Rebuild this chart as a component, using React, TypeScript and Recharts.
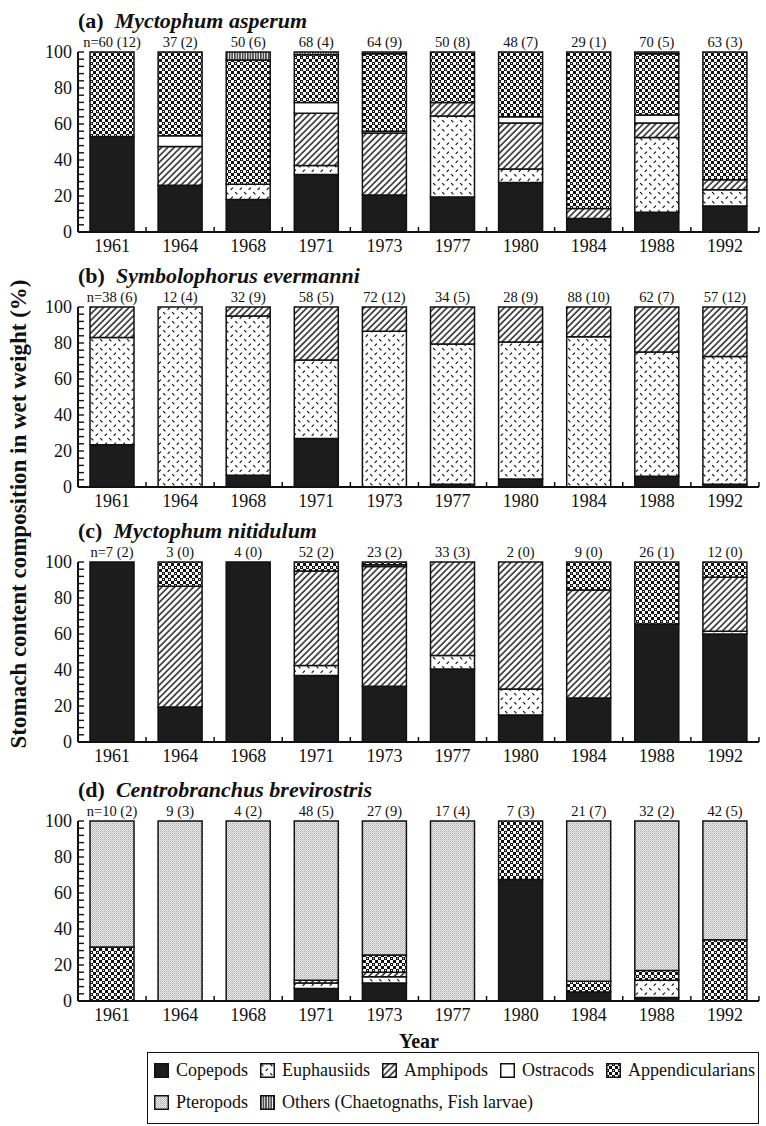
import React from "react";
import { BarChart, Bar, XAxis, YAxis } from "recharts";

const years = ["1961", "1964", "1968", "1971", "1973", "1977", "1980", "1984", "1988", "1992"];

// (a) Myctophum asperum
const aN = ["n=60 (12)", "37 (2)", "50 (6)", "68 (4)", "64 (9)", "50 (8)", "48 (7)", "29 (1)", "70 (5)", "63 (3)"];
const aCop = [53, 26, 18, 32, 20.5, 19.5, 27.5, 7.5, 11, 14.5];
const aEuph = [0, 0, 8.5, 5, 0, 45, 7.5, 0, 41.5, 9];
const aAmph = [0, 21.5, 0, 29, 34.5, 7.5, 25.5, 5.5, 8, 5.5];
const aOstr = [0, 6, 0, 6, 1, 0, 3.5, 0, 4.5, 0];
const aApp = [47, 46.5, 69, 26.5, 43, 28, 36, 87, 34, 71];
const aPter = [0, 0, 0, 0, 0, 0, 0, 0, 0, 0];
const aOth = [0, 0, 4.5, 1.5, 1, 0, 0, 0, 1, 0];

// (b) Symbolophorus evermanni
const bN = ["n=38 (6)", "12 (4)", "32 (9)", "58 (5)", "72 (12)", "34 (5)", "28 (9)", "88 (10)", "62 (7)", "57 (12)"];
const bCop = [23.5, 0, 6.5, 27, 0, 1.5, 4.5, 0, 6, 1.5];
const bEuph = [59.5, 100, 88.5, 43.5, 86.5, 78, 76, 83.5, 69, 71];
const bAmph = [17, 0, 5, 29.5, 13.5, 20.5, 19.5, 16.5, 25, 27.5];
const bOstr = [0, 0, 0, 0, 0, 0, 0, 0, 0, 0];
const bApp = [0, 0, 0, 0, 0, 0, 0, 0, 0, 0];
const bPter = [0, 0, 0, 0, 0, 0, 0, 0, 0, 0];
const bOth = [0, 0, 0, 0, 0, 0, 0, 0, 0, 0];

// (c) Myctophum nitidulum
const cN = ["n=7 (2)", "3 (0)", "4 (0)", "52 (2)", "23 (2)", "33 (3)", "2 (0)", "9 (0)", "26 (1)", "12 (0)"];
const cCop = [100, 19.5, 100, 37, 31, 40.5, 15, 24.5, 65.5, 60];
const cEuph = [0, 0, 0, 5.5, 0, 7.5, 14.5, 0, 0, 1.5];
const cAmph = [0, 67, 0, 52.5, 66.5, 52, 70.5, 60, 0, 30];
const cOstr = [0, 0, 0, 0, 1, 0, 0, 0, 0, 0];
const cApp = [0, 13.5, 0, 5, 1.5, 0, 0, 15.5, 34.5, 8.5];
const cPter = [0, 0, 0, 0, 0, 0, 0, 0, 0, 0];
const cOth = [0, 0, 0, 0, 0, 0, 0, 0, 0, 0];

// (d) Centrobranchus brevirostris
const dN = ["n=10 (2)", "9 (3)", "4 (2)", "48 (5)", "27 (9)", "17 (4)", "7 (3)", "21 (7)", "32 (2)", "42 (5)"];
const dCop = [0, 0, 0, 7, 10, 0, 67.5, 5, 2, 0];
const dEuph = [0, 0, 0, 3, 3.5, 0, 0, 0, 9.5, 0];
const dAmph = [0, 0, 0, 1.5, 2.5, 0, 0, 0, 0, 0];
const dOstr = [0, 0, 0, 0, 0, 0, 0, 0, 0, 0];
const dApp = [30, 0, 0, 0, 9.5, 0, 32.5, 6, 5.5, 34];
const dPter = [70, 100, 100, 88.5, 74.5, 100, 0, 89, 83, 66];
const dOth = [0, 0, 0, 0, 0, 0, 0, 0, 0, 0];

const yTicks = [0, 4, 8, 12, 16, 20, 24, 28, 32, 36, 40, 44, 48, 52, 56, 60, 64, 68, 72, 76, 80, 84, 88, 92, 96, 100];

const series = [
  { key: "cop", name: "Copepods", fill: "#1c1c1c" },
  { key: "euph", name: "Euphausiids", fill: "url(#pEuph)" },
  { key: "amph", name: "Amphipods", fill: "url(#pAmph)" },
  { key: "ostr", name: "Ostracods", fill: "#ffffff" },
  { key: "app", name: "Appendicularians", fill: "url(#pApp)" },
  { key: "pter", name: "Pteropods", fill: "url(#pPter)" },
  { key: "oth", name: "Others (Chaetognaths, Fish larvae)", fill: "url(#pOth)" },
];

const SERIF = "Liberation Serif, Times New Roman, Times, serif";

function buildRows(n: string[], cols: number[][]) {
  return years.map((year, i) => {
    const row: any = { year, n: n[i] };
    series.forEach((s, j) => {
      row[s.key] = cols[j][i];
    });
    return row;
  });
}

const panels = [
  { top: 2, tag: "(a)", species: "Myctophum asperum", rows: buildRows(aN, [aCop, aEuph, aAmph, aOstr, aApp, aPter, aOth]) },
  { top: 257, tag: "(b)", species: "Symbolophorus evermanni", rows: buildRows(bN, [bCop, bEuph, bAmph, bOstr, bApp, bPter, bOth]) },
  { top: 512, tag: "(c)", species: "Myctophum nitidulum", rows: buildRows(cN, [cCop, cEuph, cAmph, cOstr, cApp, cPter, cOth]) },
  { top: 771, tag: "(d)", species: "Centrobranchus brevirostris", rows: buildRows(dN, [dCop, dEuph, dAmph, dOstr, dApp, dPter, dOth]) },
];

const txt = { fontFamily: SERIF, fill: "#111" };

function YTick(props: any) {
  const { x, y, payload } = props;
  const v = payload.value;
  return (
    <g>
      <line x1={x} x2={x + 6} y1={y} y2={y} stroke="#111" strokeWidth={1.4} />
      {v % 20 === 0 && (
        <text x={x - 6} y={y + 6} textAnchor="end" fontSize={18} style={txt}>
          {v}
        </text>
      )}
    </g>
  );
}

function YearTick(props: any) {
  const { x, y, payload } = props;
  return (
    <g>
      <line x1={x + 34} x2={x + 34} y1={y} y2={y - 5} stroke="#111" strokeWidth={1.5} />
      <text x={x} y={y + 20} textAnchor="middle" fontSize={18} style={txt}>
        {payload.value}
      </text>
    </g>
  );
}

function NTick(props: any) {
  const { x, y, payload } = props;
  return (
    <text x={x} y={y - 5} textAnchor="middle" fontSize={14.5} style={txt}>
      {payload.value}
    </text>
  );
}

function Panel({ top, rows }: { top: number; rows: any[] }) {
  return (
    <div style={{ position: "absolute", left: 0, top, width: 766, height: 255 }}>
      <BarChart
        width={766}
        height={255}
        data={rows}
        margin={{ top: 20, right: 7, bottom: 0, left: 0 }}
        barCategoryGap={12}
      >
        <XAxis
          xAxisId="n"
          orientation="top"
          dataKey="n"
          height={30}
          axisLine={false}
          tickLine={false}
          tickSize={0}
          tickMargin={0}
          interval={0}
          tick={<NTick />}
        />
        <XAxis
          dataKey="year"
          height={25}
          axisLine={{ stroke: "#111", strokeWidth: 2 }}
          tickLine={false}
          tickSize={0}
          tickMargin={0}
          interval={0}
          tick={<YearTick />}
        />
        <YAxis
          domain={[0, 100]}
          ticks={yTicks}
          width={78}
          axisLine={{ stroke: "#111", strokeWidth: 2 }}
          tickLine={false}
          tickSize={0}
          tickMargin={0}
          interval={0}
          tick={<YTick />}
        />
        {series.map((s) => (
          <Bar
            key={s.key}
            dataKey={s.key}
            stackId="s"
            fill={s.fill}
            stroke="#111"
            strokeWidth={1.5}
            isAnimationActive={false}
          />
        ))}
      </BarChart>
    </div>
  );
}

function Swatch({ fill }: { fill: string }) {
  return (
    <svg width={15} height={15} style={{ display: "block" }}>
      <rect x={0.75} y={0.75} width={13.5} height={13.5} fill={fill} stroke="#111" strokeWidth={1.5} />
    </svg>
  );
}

function LegendItem({ s }: { s: { fill: string; name: string } }) {
  return (
    <div style={{ display: "flex", alignItems: "center", gap: 7 }}>
      <Swatch fill={s.fill} />
      <span>{s.name}</span>
    </div>
  );
}

export default function App() {
  return (
    <div
      style={{
        position: "absolute",
        left: 0,
        top: 0,
        width: 766,
        height: 1126,
        background: "#fff",
        fontFamily: SERIF,
        color: "#111",
      }}
    >
      <svg width={0} height={0} style={{ position: "absolute" }}>
        <defs>
          <pattern id="pEuph" width={9} height={9} patternUnits="userSpaceOnUse">
            <rect width={9} height={9} fill="#fff" />
            <path d="M1.2 1.2 L3.4 3.4 M5.7 7.8 L7.9 5.6" stroke="#111" strokeWidth={1.2} />
          </pattern>
          <pattern id="pAmph" width={4.5} height={4.5} patternUnits="userSpaceOnUse" patternTransform="rotate(45)">
            <rect width={4.5} height={4.5} fill="#fff" />
            <line x1={1} y1={0} x2={1} y2={4.5} stroke="#111" strokeWidth={1.4} />
          </pattern>
          <pattern id="pApp" width={6} height={6} patternUnits="userSpaceOnUse">
            <rect width={6} height={6} fill="#fff" />
            <rect x={0} y={0} width={3} height={3} fill="#111" />
            <rect x={3} y={3} width={3} height={3} fill="#111" />
            <rect x={1} y={1} width={1} height={1} fill="#fff" />
          </pattern>
          <pattern id="pPter" width={2} height={2} patternUnits="userSpaceOnUse">
            <rect width={2} height={2} fill="#eeeeee" />
            <rect x={0} y={0} width={1} height={1} fill="#a8a8a8" />
            <rect x={1} y={1} width={1} height={1} fill="#c4c4c4" />
          </pattern>
          <pattern id="pOth" width={2.6} height={4} patternUnits="userSpaceOnUse">
            <rect width={2.6} height={4} fill="#fff" />
            <line x1={0.8} y1={0} x2={0.8} y2={4} stroke="#111" strokeWidth={1.3} />
          </pattern>
        </defs>
      </svg>

      {panels.map((p) => (
        <Panel key={p.tag} top={p.top} rows={p.rows} />
      ))}

      <svg width={766} height={1126} style={{ position: "absolute", left: 0, top: 0, pointerEvents: "none" }}>
        {panels.map((p) => (
          <text key={p.tag} x={78} y={p.top + 26} fontSize={22} fontWeight="bold" style={txt}>
            {p.tag}
            <tspan dx={11} fontStyle="italic">{p.species}</tspan>
          </text>
        ))}
        <text
          x={18}
          y={514}
          transform="rotate(-90 18 514)"
          textAnchor="middle"
          dominantBaseline="central"
          fontSize={23}
          fontWeight="bold"
          style={txt}
        >
          Stomach content composition in wet weight (%)
        </text>
        <text x={419} y={1048} textAnchor="middle" fontSize={20} fontWeight="bold" style={txt}>
          Year
        </text>
      </svg>

      <div
        style={{
          position: "absolute",
          left: 147,
          top: 1052,
          width: 612,
          height: 72,
          boxSizing: "border-box",
          border: "1.5px solid #111",
          padding: "6px 0 0 6px",
          fontSize: 18,
          lineHeight: "22px",
        }}
      >
        <div style={{ display: "flex", gap: 12 }}>
          {series.slice(0, 5).map((s) => (
            <LegendItem key={s.key} s={s} />
          ))}
        </div>
        <div style={{ display: "flex", gap: 12, marginTop: 10 }}>
          {series.slice(5).map((s) => (
            <LegendItem key={s.key} s={s} />
          ))}
        </div>
      </div>
    </div>
  );
}
